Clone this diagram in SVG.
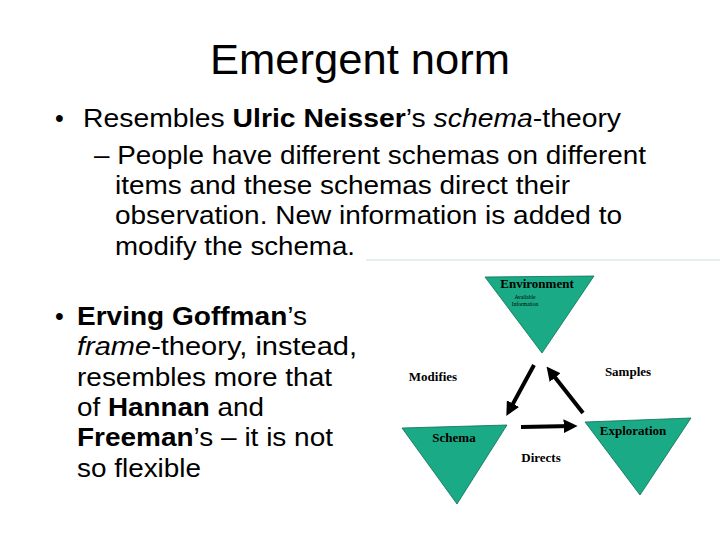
<svg xmlns="http://www.w3.org/2000/svg" width="720" height="540" viewBox="0 0 720 540">
<style>
.t{font-family:"Liberation Sans",Arial,sans-serif;fill:#000}
.b{font-size:25px}
.d{font-family:"Liberation Serif","Times New Roman",serif;font-weight:bold;font-size:13px;fill:#000}
.tri{fill:#1aaa85;stroke:#0d6f55;stroke-width:0.8}
.ar{stroke:#000;stroke-width:4;fill:none;marker-end:url(#ah)}
</style>
<defs><marker id="ah" viewBox="0 0 10 10" refX="6" refY="5" markerWidth="3.5" markerHeight="3.5" orient="auto"><path d="M0,0L10,5L0,10z" fill="#000"/></marker></defs>
<rect width="720" height="540" fill="#fff"/>
<text class="t" x="210" y="74" font-size="42" textLength="300" lengthAdjust="spacingAndGlyphs">Emergent norm</text>
<text class="t b" x="55" y="127">•</text>
<text class="t b" x="83" y="127" textLength="538" lengthAdjust="spacingAndGlyphs">Resembles <tspan font-weight="bold">Ulric Neisser</tspan>’s <tspan font-style="italic">schema</tspan>-theory</text>
<text class="t b" x="94" y="164" textLength="552" lengthAdjust="spacingAndGlyphs">– People have different schemas on different</text>
<text class="t b" x="115" y="194" textLength="455" lengthAdjust="spacingAndGlyphs">items and these schemas direct their</text>
<text class="t b" x="115" y="224" textLength="507" lengthAdjust="spacingAndGlyphs">observation. New information is added to</text>
<text class="t b" x="115" y="255" textLength="240" lengthAdjust="spacingAndGlyphs">modify the schema.</text>
<line x1="366" y1="260" x2="720" y2="260" stroke="#e4eeee" stroke-width="2"/>
<text class="t b" x="55" y="325">•</text>
<text class="t b" x="77" y="325" textLength="230" lengthAdjust="spacingAndGlyphs"><tspan font-weight="bold">Erving Goffman</tspan>’s</text>
<text class="t b" x="77" y="355" textLength="280" lengthAdjust="spacingAndGlyphs"><tspan font-style="italic">frame</tspan>-theory, instead,</text>
<text class="t b" x="77" y="386" textLength="255" lengthAdjust="spacingAndGlyphs">resembles more that</text>
<text class="t b" x="77" y="416" textLength="187" lengthAdjust="spacingAndGlyphs">of <tspan font-weight="bold">Hannan</tspan> and</text>
<text class="t b" x="77" y="446" textLength="256" lengthAdjust="spacingAndGlyphs"><tspan font-weight="bold">Freeman</tspan>’s – it is not</text>
<text class="t b" x="77" y="477" textLength="124" lengthAdjust="spacingAndGlyphs">so flexible</text>
<g id="environment"><polygon class="tri" points="485,277 594,276 542,353"/>
<text class="d" x="537" y="288" text-anchor="middle">Environment</text>
<text x="525" y="299" font-family="Liberation Serif,serif" font-size="5.5" text-anchor="middle">Available</text>
<text x="525" y="306" font-family="Liberation Serif,serif" font-size="5.5" text-anchor="middle">Information</text></g>
<g id="schema"><polygon class="tri" points="402,428 507,425 457,504"/>
<text class="d" x="454" y="442" text-anchor="middle">Schema</text></g>
<g id="exploration"><polygon class="tri" points="585,422 691,418 640,495"/>
<text class="d" x="633" y="435" text-anchor="middle">Exploration</text></g>
<g id="connectors">
<line class="ar" x1="534" y1="365" x2="509" y2="411"/>
<line class="ar" x1="583" y1="413" x2="550" y2="371"/>
<line class="ar" x1="521" y1="427" x2="572" y2="426"/>
</g>
<text class="d" x="433" y="381" text-anchor="middle">Modifies</text>
<text class="d" x="628" y="376" text-anchor="middle">Samples</text>
<text class="d" x="541" y="462" text-anchor="middle">Directs</text>
</svg>
